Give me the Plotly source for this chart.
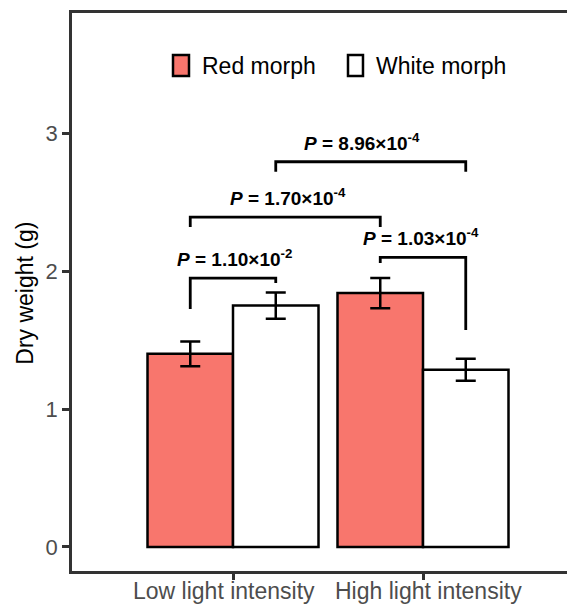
import plotly.graph_objects as go

# ---- data ----
categories = ["Low light intensity", "High light intensity"]
series_names = ["Red morph", "White morph"]
red_means = [1.40, 1.84]
red_err = [0.09, 0.11]
white_means = [1.75, 1.285]
white_err = [0.095, 0.08]
y_ticks = [0, 1, 2, 3]

# comparisons: (bar index a, bar index b, y of bar line, leg end a, leg end b, label)
# bar index: 0 red-low, 1 white-low, 2 red-high, 3 white-high
comparisons = [
    (0, 1, 1.949, 1.725, 1.913, "<i>P</i> = 1.10×10<sup>-2</sup>"),
    (0, 2, 2.391, 2.319, 2.319, "<i>P</i> = 1.70×10<sup>-4</sup>"),
    (1, 3, 2.792, 2.720, 2.720, "<i>P</i> = 8.96×10<sup>-4</sup>"),
    (2, 3, 2.099, 2.058, 1.572, "<i>P</i> = 1.03×10<sup>-4</sup>"),
]
label_x_shift = [0.008, 0.289, 0.68, 0.989]
cat_label_x = [-0.05, 1.03]

RED = "#F8766D"
FONT = "Liberation Sans, Arial, sans-serif"
BAR_W = 0.45

xs = [0, 1]
fig = go.Figure()
fig.add_trace(go.Bar(
    x=[x - BAR_W / 2 for x in xs], y=red_means, width=BAR_W, name=series_names[0],
    marker=dict(color=RED, line=dict(color="black", width=2.5)),
    error_y=dict(type="data", array=red_err, color="black", thickness=2.5, width=10),
    showlegend=False,
))
fig.add_trace(go.Bar(
    x=[x + BAR_W / 2 for x in xs], y=white_means, width=BAR_W, name=series_names[1],
    marker=dict(color="white", line=dict(color="black", width=2.5)),
    error_y=dict(type="data", array=white_err, color="black", thickness=2.5, width=10),
    showlegend=False,
))

bar_centers = [xs[0] - BAR_W / 2, xs[0] + BAR_W / 2, xs[1] - BAR_W / 2, xs[1] + BAR_W / 2]
for (a, b, yl, ya, yb, lab), lx in zip(comparisons, label_x_shift):
    xa, xb = bar_centers[a], bar_centers[b]
    fig.add_trace(go.Scatter(
        x=[xa, xa, xb, xb], y=[ya, yl, yl, yb], mode="lines",
        line=dict(color="black", width=2.8), showlegend=False, hoverinfo="skip",
    ))
    fig.add_annotation(
        x=lx, y=yl, text="<b>" + lab + "</b>", showarrow=False,
        xanchor="center", yanchor="bottom", yshift=6,
        font=dict(family=FONT, size=19, color="black"),
    )

# manual legend
legend_items = [
    (0.2008, 0.2326, 0.2545, RED, series_names[0]),
    (0.5487, 0.5785, 0.6004, "white", series_names[1]),
]
for x0, x1, tx, col, name in legend_items:
    fig.add_shape(type="rect", xref="paper", yref="paper", x0=x0, x1=x1, y0=0.8871, y1=0.9247,
                  fillcolor=col, line=dict(color="black", width=2.5))
    fig.add_annotation(xref="paper", yref="paper", x=tx, y=0.905, text=name, showarrow=False,
                       xanchor="left", yanchor="middle",
                       font=dict(family=FONT, size=23, color="black"))

# category labels (x tick labels)
for cx, cat in zip(cat_label_x, categories):
    fig.add_annotation(x=cx, xref="x", yref="paper", y=-0.0358, text=cat, showarrow=False,
                       xanchor="center", yanchor="middle",
                       font=dict(family=FONT, size=23, color="#4D4D4D"))

# y-axis title
fig.add_annotation(xref="paper", yref="paper", x=-0.0934, y=0.497, text="Dry weight (g)",
                   textangle=-90, showarrow=False, xanchor="center", yanchor="middle",
                   font=dict(family=FONT, size=23, color="black"))

# page body has an 8px default margin, so the figure is sized to fit the window
fig.update_layout(
    width=567, height=596,
    margin=dict(l=64, r=0, t=5, b=33),
    paper_bgcolor="white", plot_bgcolor="white",
    barmode="overlay",
    font=dict(family=FONT),
    xaxis=dict(
        range=[-0.8474, 1.8], tickvals=xs, showticklabels=False,
        showline=True, linecolor="#333333", linewidth=2.5, mirror=True,
        ticks="outside", ticklen=6, tickwidth=3, tickcolor="#333333",
        showgrid=False, zeroline=False, automargin=False,
    ),
    yaxis=dict(
        range=[-0.174, 3.870], tickvals=y_ticks,
        showline=True, linecolor="#333333", linewidth=2.5,
        ticks="outside", ticklen=7, tickwidth=3, tickcolor="#333333",
        tickfont=dict(family=FONT, size=22, color="#4D4D4D"),
        showgrid=False, zeroline=False, automargin=False,
    ),
)

fig.write_html("out.html")
